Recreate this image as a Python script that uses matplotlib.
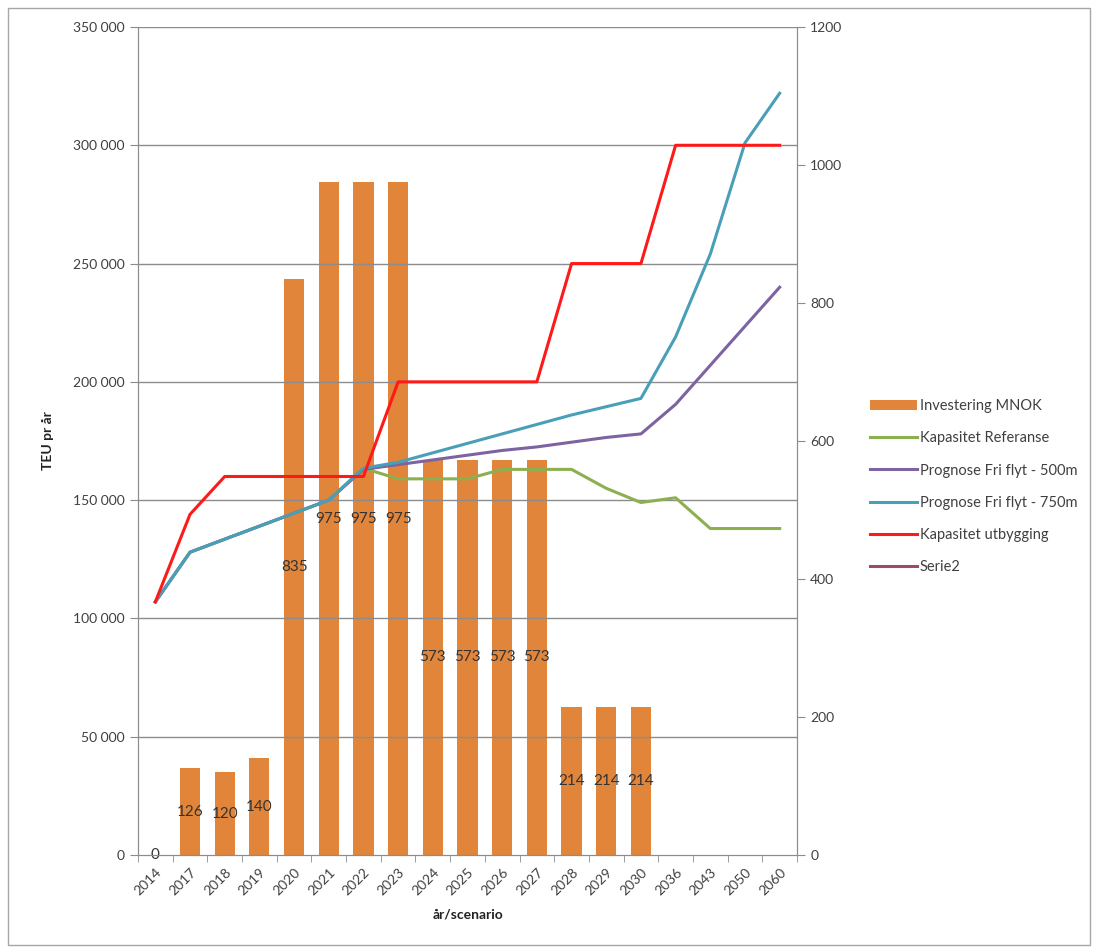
import matplotlib
matplotlib.use("Agg")
import matplotlib.pyplot as plt
from matplotlib.patches import Rectangle
from matplotlib.ticker import FuncFormatter
import numpy as np

plt.rcParams['font.family'] = ['Lato', 'DejaVu Sans']

# data
years = ['2014', '2017', '2018', '2019', '2020', '2021', '2022', '2023', '2024', '2025',
         '2026', '2027', '2028', '2029', '2030', '2036', '2043', '2050', '2060']
invest_mnok = [0, 126, 120, 140, 835, 975, 975, 975, 573, 573,
               573, 573, 214, 214, 214, np.nan, np.nan, np.nan, np.nan]
kap_referanse = [107000, 128000, 133500, 139000, 144500, 150000, 163500, 159000, 159000, 159000,
                 163000, 163000, 163000, 155000, 149000, 151000, 138000, 138000, 138000]
prog_500 = [107000, 128000, 133500, 139000, 144500, 150000, 163000, 165000, 167000, 169000,
            171000, 172500, 174500, 176500, 178000, 190500, 207000, 223500, 240000]
prog_750 = [107000, 128000, 133500, 139000, 144500, 150000, 163500, 166000, 170000, 174000,
            178000, 182000, 186000, 189500, 193000, 219000, 254000, 301000, 322000]
kap_utbygging = [107000, 144000, 160000, 160000, 160000, 160000, 160000, 200000, 200000, 200000,
                 200000, 200000, 250000, 250000, 250000, 300000, 300000, 300000, 300000]

c_bar = '#E0853A'
c_green = '#8CAF50'
c_purple = '#7D63A0'
c_blue = '#4A9FB8'
c_red = '#FF1A1A'
c_serie2 = '#A04A6A'
grid_c = '#8C8C8C'
txt_c = '#404040'

fig = plt.figure(figsize=(10.94, 9.5), dpi=100)
fig.patches.append(Rectangle((8 / 1094, 5 / 950), 1082 / 1094, 937 / 950, transform=fig.transFigure,
                             fill=False, edgecolor='#A6A6A6', linewidth=1))

ax = fig.add_axes([138 / 1094, 95 / 950, 659 / 1094, 828 / 950])
ax2 = ax.twinx()
x = np.arange(len(years))

# bars on secondary axis, lines on primary (drawn on top)
ax.set_zorder(2)
ax.patch.set_visible(False)

bars = ax2.bar(x, invest_mnok, width=0.58, color=c_bar, label='Investering MNOK', zorder=2)
for xi, v in zip(x, invest_mnok):
    if not np.isnan(v):
        ax2.text(xi, v / 2, f'{int(v)}', ha='center', va='center', fontsize=11, color='#333333')

ax.plot(x, kap_referanse, color=c_green, lw=2.2, label='Kapasitet Referanse')
ax.plot(x, prog_500, color=c_purple, lw=2.2, label='Prognose Fri flyt - 500m')
ax.plot(x, prog_750, color=c_blue, lw=2.2, label='Prognose Fri flyt - 750m')
ax.plot(x, kap_utbygging, color=c_red, lw=2.2, label='Kapasitet utbygging')
ax.plot([], [], color=c_serie2, lw=2.2, label='Serie2')

ax.set_xlim(-0.5, len(years) - 0.5)
ax.set_ylim(0, 350000)
ax2.set_ylim(0, 1200)
ax.set_yticks(np.arange(0, 350001, 50000))
ax2.set_yticks(np.arange(0, 1201, 200))
ax.yaxis.set_major_formatter(FuncFormatter(lambda v, p: f'{int(v):,}'.replace(',', ' ')))

ax2.grid(False)
for yv in np.arange(50000, 350001, 50000):
    ax.axhline(yv, color=grid_c, lw=1, zorder=0)

ax.set_xticks(x)
ax.set_xticklabels(years, rotation=45, ha='right', rotation_mode='anchor', fontsize=10, color=txt_c)
ax.set_xticks(np.arange(-0.5, len(years), 1), minor=True)
ax.tick_params(axis='x', which='major', length=0, pad=8)
ax.tick_params(axis='x', which='minor', length=5, color=grid_c)
ax.tick_params(axis='y', length=6, color=grid_c, labelsize=10, labelcolor=txt_c)
ax2.tick_params(axis='y', length=6, color=grid_c, labelsize=10, labelcolor=txt_c)
ax2.tick_params(axis='x', length=0)

for a in (ax, ax2):
    a.spines['top'].set_visible(False)
    for s in ('left', 'right', 'bottom'):
        a.spines[s].set_color(grid_c)

ax.set_ylabel('TEU pr år', fontsize=10, fontweight='bold', color='#222222', labelpad=14)
ax.set_xlabel('år/scenario', fontsize=10, fontweight='bold', color='#222222', labelpad=8)

h1, l1 = ax2.get_legend_handles_labels()
h2, l2 = ax.get_legend_handles_labels()
fig.legend(h1 + h2, l1 + l2, loc='upper left', bbox_to_anchor=(857 / 1094, 1 - 386 / 950),
           frameon=False, fontsize=10.5, labelspacing=1.25, handlelength=3.2, handletextpad=0.2,
           labelcolor=txt_c)

fig.savefig('out.png', dpi=100)
